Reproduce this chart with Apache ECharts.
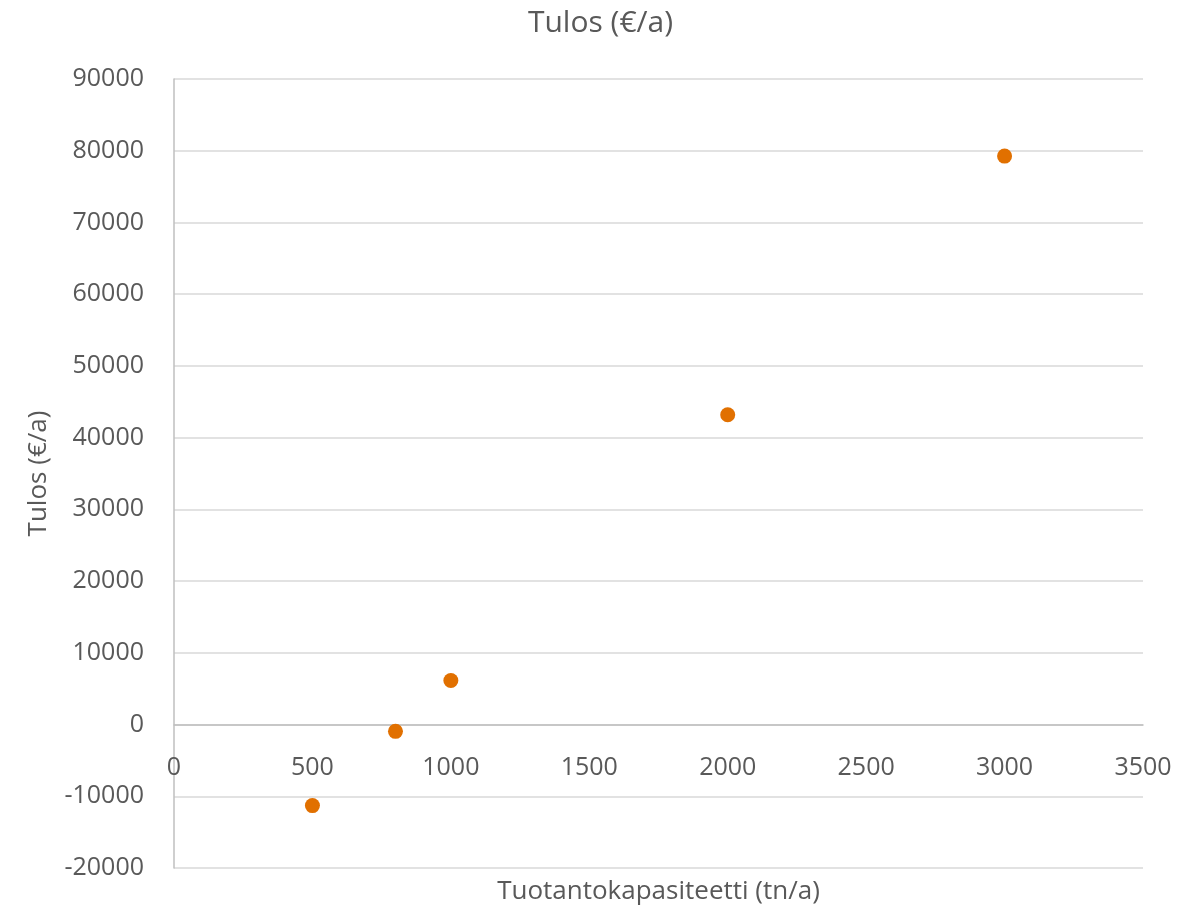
<!DOCTYPE html>
<html>
<head>
<meta charset="utf-8">
<script src="https://cdn.jsdelivr.net/npm/echarts@6/dist/echarts.min.js"></script>
<style>html,body{margin:0;padding:0;background:#fff}#c{width:1201px;height:908px}</style>
</head>
<body>
<div id="c"></div>
<script>
var capacity = [500, 800, 1000, 2000, 3000];
var profit = [-11300, -950, 6150, 43200, 79250];
var chartTitle = 'Tulos (€/a)';
var xName = 'Tuotantokapasiteetti (tn/a)';
var yName = 'Tulos (€/a)';

var pts = capacity.map(function (c, i) { return [c, profit[i]]; });
var font = '"Open Sans", "Noto Sans", sans-serif';
var txt = '#595959';
var plain = function (v) { return String(v); };
var chart = echarts.init(document.getElementById('c'));
chart.setOption({
  animation: false,
  title: {
    text: chartTitle, left: 'center', top: 3,
    textStyle: { fontFamily: font, fontSize: 30, fontWeight: 'normal', color: txt }
  },
  grid: { left: 174, right: 58, top: 79, bottom: 40, containLabel: false, outerBoundsMode: 'none' },
  xAxis: {
    type: 'value', min: 0, max: 3500, interval: 500,
    offset: -143,
    name: xName, nameLocation: 'middle', nameGap: 154,
    nameTextStyle: { fontFamily: font, fontSize: 26, color: txt },
    axisLine: { show: true, onZero: false, lineStyle: { color: '#bfbfbf', width: 1.5 } },
    axisTick: { show: false },
    splitLine: { show: false },
    axisLabel: { fontFamily: font, fontSize: 25, color: txt, margin: 30, formatter: plain }
  },
  yAxis: {
    type: 'value', min: -20000, max: 90000, interval: 10000,
    name: yName, nameLocation: 'middle', nameGap: 122,
    nameTextStyle: { fontFamily: font, fontSize: 26, color: txt },
    axisLine: { show: true, onZero: false, lineStyle: { color: '#bfbfbf', width: 1.5 } },
    axisTick: { show: false },
    splitLine: { show: true, lineStyle: { color: '#d9d9d9', width: 1.5 } },
    axisLabel: { fontFamily: font, fontSize: 25, color: txt, margin: 30, formatter: plain }
  },
  series: [{
    type: 'scatter', data: pts, symbol: 'circle', symbolSize: 15,
    itemStyle: { color: '#E17000', opacity: 1 }
  }]
});
</script>
</body>
</html>
